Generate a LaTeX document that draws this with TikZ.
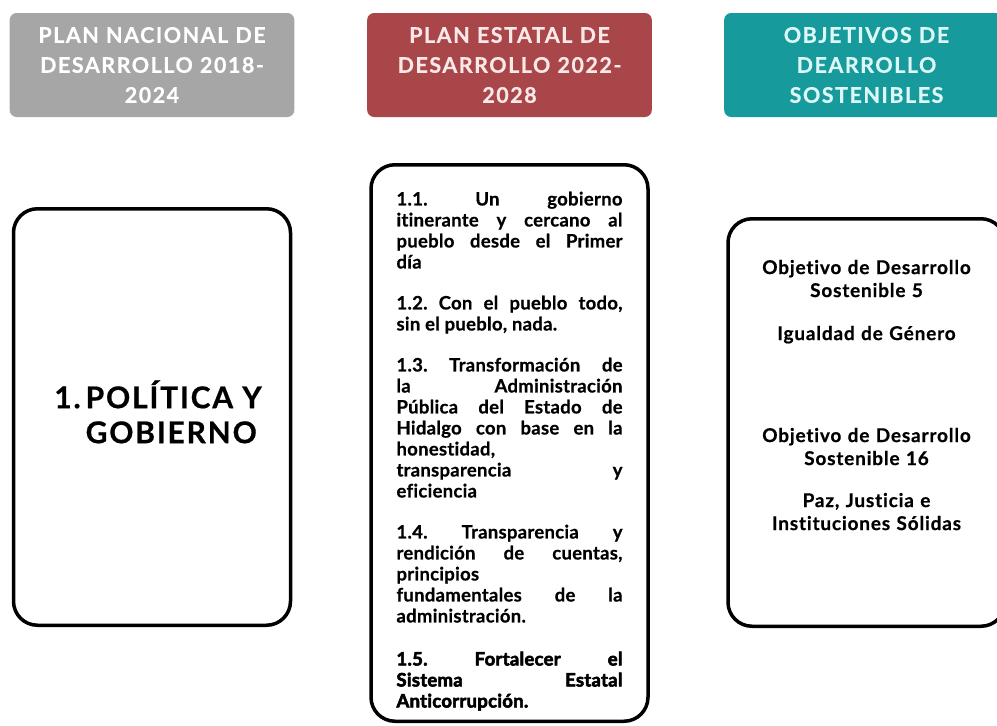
\documentclass[tikz,border=0pt]{standalone}
\usepackage{fontspec}
\setmainfont{Lato}[Ligatures=NoCommon, BoldFeatures={FakeBold=0.6}]
\newfontfamily\latoheavy{Lato}[Ligatures=NoCommon, BoldFeatures={FakeBold=3}]
\usetikzlibrary{positioning}

\definecolor{gris}{HTML}{A6A6A6}
\definecolor{vino}{HTML}{A8464A}
\definecolor{verdeazul}{HTML}{169A9B}
\definecolor{rosado}{HTML}{F8E8E8}
\definecolor{celeste}{HTML}{DDF6F6}

\begin{document}
\frenchspacing
\begin{tikzpicture}[x=1pt,y=-1pt]
            \tikzstyle{header} = [rectangle, rounded corners=7pt, minimum width=283pt, minimum height=104pt, text width=278pt, align=center, font=\fontsize{21.5}{30}\selectfont\bfseries\addfontfeatures{LetterSpace=7}]
            \tikzstyle{box} = [rectangle, rounded corners=24pt, draw=black, line width=3.5pt, fill=white, minimum width=277pt]

            \useasboundingbox (0,0) rectangle (997,726);

            % Headers
            \node (nacional) [header, fill=gris, text=white] at (152,65) {PLAN NACIONAL DE\\DESARROLLO 2018-\\2024};
            \node (estatal) [header, fill=vino, text=rosado, right of=nacional, node distance=357.5pt] {PLAN ESTATAL DE\\DESARROLLO 2022-\\2028};
            \node (ods) [header, fill=verdeazul, text=celeste, right of=estatal, node distance=357pt] {OBJETIVOS DE\\DEARROLLO\\SOSTENIBLES};

            % Boxes
            \node (eje) [box, below of=nacional, node distance=352pt, minimum height=416.5pt, font=\fontsize{30}{35}\selectfont\bfseries\addfontfeatures{LetterSpace=6}] {\hspace*{12pt}\begin{tabular}{@{}l@{\,}l@{}}1.&POLÍTICA Y\\&GOBIERNO\end{tabular}};
            \node (objetivos) [box, below of=estatal, node distance=378pt, minimum height=556.5pt, text width=226pt, align=justify, font=\fontsize{18.5}{21}\selectfont\bfseries\addfontfeatures{LetterSpace=1.5}] {%
                \rule{0pt}{30pt}1.1. Un gobierno\linebreak itinerante y cercano al\linebreak pueblo desde el Primer\linebreak día\par\vspace{20pt}
                1.2. Con el pueblo todo,\linebreak sin el pueblo, nada.\par\vspace{20pt}
                1.3. Transformación de\linebreak la Administración\linebreak Pública del Estado de\linebreak Hidalgo con base en la\linebreak honestidad,\linebreak transparencia y\linebreak eficiencia\par\vspace{20pt}
                1.4. Transparencia y\linebreak rendición de cuentas,\linebreak principios\linebreak fundamentales de la\linebreak administración.\par\vspace{22pt}
                {\latoheavy\bfseries\addfontfeatures{LetterSpace=1.5} 1.5. Fortalecer el\linebreak Sistema Estatal\linebreak Anticorrupción.}};
            \node (metas) [box, below of=ods, node distance=357.5pt, minimum height=407.5pt, text width=260pt, align=center, font=\fontsize{19}{23}\selectfont\bfseries\addfontfeatures{LetterSpace=4.3}] {%
                Objetivo de Desarrollo\\Sostenible 5\\[20pt]Igualdad de Género\\[79pt]Objetivo de Desarrollo\\Sostenible 16\\[19pt]Paz, Justicia e\\Instituciones Sólidas\\[32pt]\mbox{}};
\end{tikzpicture}
\end{document}
